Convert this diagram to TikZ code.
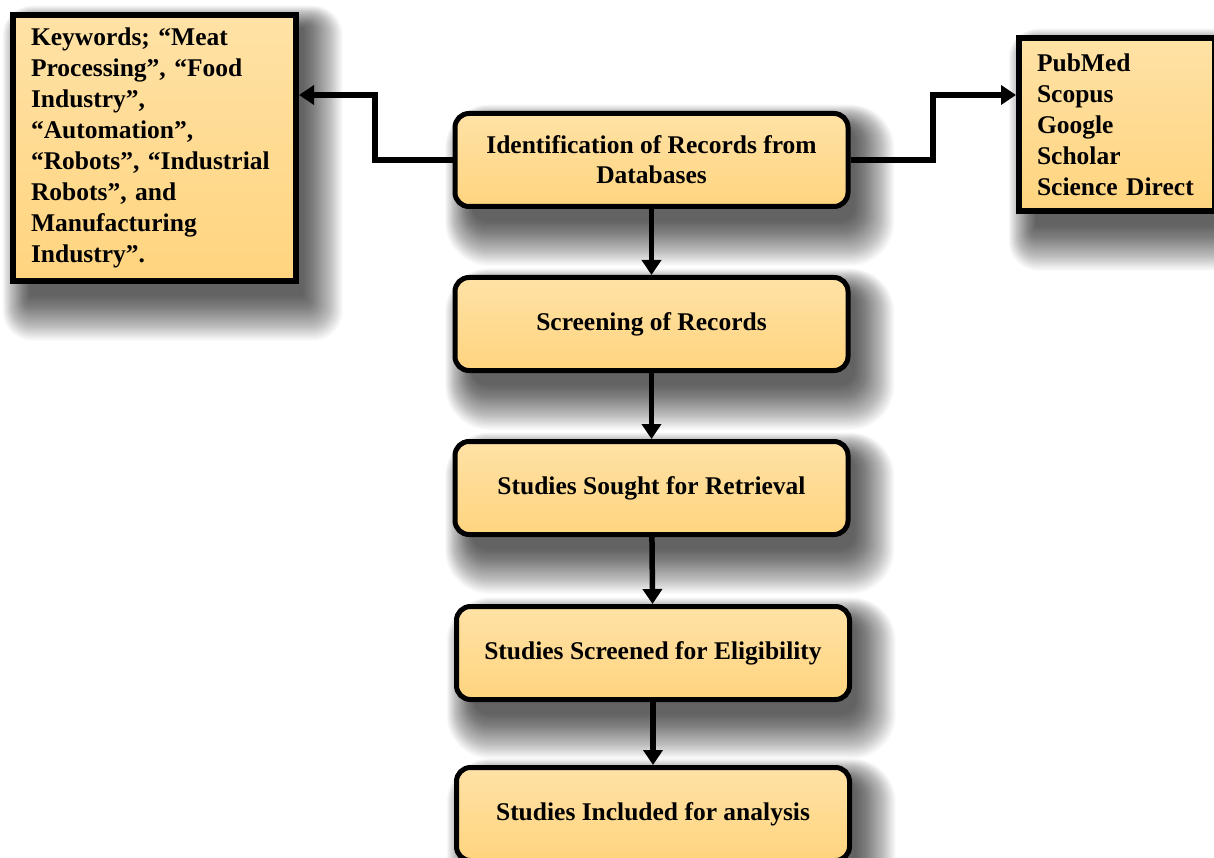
\documentclass[tikz,border=0pt]{standalone}
\usepackage{fontspec}
\setmainfont{Liberation Serif}
\usetikzlibrary{arrows.meta,backgrounds}
\definecolor{boxtop}{HTML}{FFE2A6}
\definecolor{boxbot}{HTML}{FFD47E}
\tikzset{
  stagebox/.style={draw=black,line width=5pt,rounded corners=14pt,
      top color=boxtop,bottom color=boxbot,
      minimum width=393pt,minimum height=93pt,
      align=center,font=\fontsize{25.5}{30}\selectfont\bfseries},
  listbox/.style={draw=black,line width=6pt,
      top color=boxtop,bottom color=boxbot,
      align=left,anchor=north west,inner xsep=18pt,inner ysep=0pt,
      font=\fontsize{25.5}{31}\selectfont\bfseries},
  arr/.style={line width=5.5pt,-{Triangle[length=15pt,width=19pt]}},
  shadowlayer/.style={fill=black,fill opacity=0.016}
}
% soft drop shadow: stacked translucent copies, growing down and to the right
\newcommand\dropshadow[2]{%
  \foreach \r in {0,1,...,50}
    \fill[shadowlayer,rounded corners=#2+\r*0.6]
      ([shift={(-\r*0.55+20,-\r*0.45+16)}]#1.north west)
      rectangle ([shift={(\r*0.8+4,\r*0.9+12)}]#1.south east);}
\begin{document}
\begin{tikzpicture}[x=1pt,y=-1pt]
\useasboundingbox (0,0) rectangle (1214,858);

% main sequence of stages
\node[stagebox] (b1) at (651.5,160) {Identification of Records from\\Databases};
\node[stagebox] (b2) at (651.5,324) {Screening of Records};
\node[stagebox] (b3) at (651.5,488) {Studies Sought for Retrieval};
\node[stagebox] (b4) at (653,653) {Studies Screened for Eligibility};
\node[stagebox] (b5) at (653,814) {Studies Included for analysis};

% side boxes: search terms and databases
\node[listbox,minimum width=283pt,minimum height=266pt,text width=247pt] (kw) at (10,12)
  {Keywords; “Meat\\Processing”, “Food\\Industry”,\\“Automation”,\\“Robots”, “Industrial\\Robots”, and\\Manufacturing\\Industry”.};
\node[listbox,minimum width=196pt,minimum height=173pt,text width=160pt] (db) at (1016,35)
  {PubMed\\Scopus\\Google\\Scholar\\Science Direct};

\begin{scope}[on background layer]
  \fill[white] (0,0) rectangle (1214,858);
  \dropshadow{b1}{14}
  \dropshadow{b2}{14}
  \dropshadow{b3}{14}
  \dropshadow{b4}{14}
  \dropshadow{b5}{14}
  \dropshadow{kw}{0}
  \dropshadow{db}{0}
\end{scope}

\coordinate (ky) at (0,95);

% connectors
\draw[arr] (b1) -- (b2);
\draw[arr] (b2) -- (b3);
\draw[arr] (b3) -- (b4);
\draw[arr] (b4) -- (b5);
\draw[arr] (b1.west) -- (375,160) |- (kw.east |- ky);
\draw[arr] (b1.east) -- (933,160) |- (db.west |- ky);
\end{tikzpicture}
\end{document}
